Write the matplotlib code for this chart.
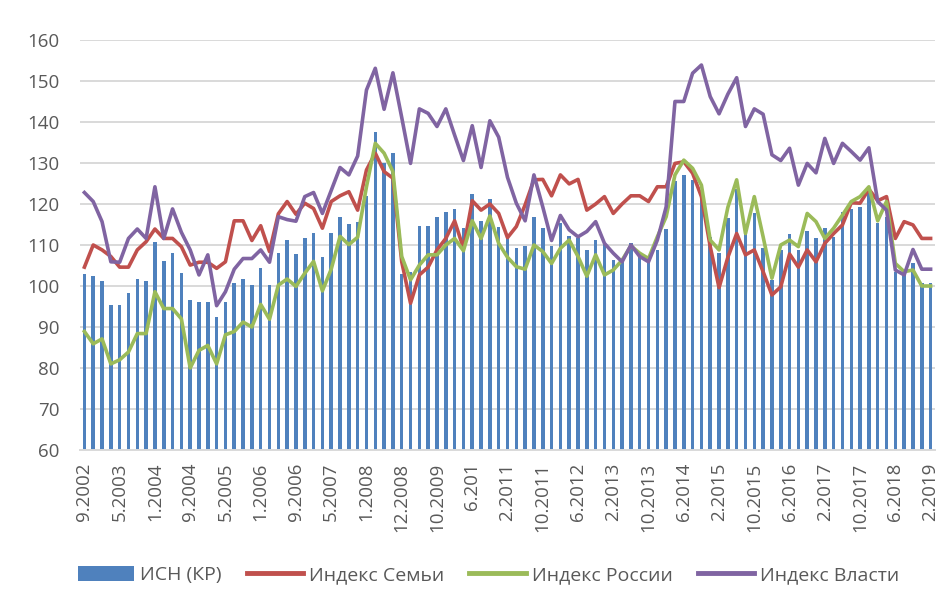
import numpy as np
import matplotlib
matplotlib.use("Agg")
import matplotlib.pyplot as plt
from matplotlib.patches import Patch
from matplotlib.lines import Line2D

plt.rcParams['font.family'] = ['Open Sans', 'DejaVu Sans']

tick_labels = ["9.2002", "5.2003", "1.2004", "9.2004", "5.2005", "1.2006", "9.2006",
               "5.2007", "1.2008", "12.2008", "10.2009", "6.201", "2.2011", "10.2011",
               "6.2012", "2.2013", "10.2013", "6.2014", "2.2015", "10.2015", "6.2016",
               "2.2017", "10.2017", "6.2018", "2.2019"]

isn_kr = [103.0, 102.5, 101.3, 95.3, 95.3, 98.3, 101.8, 101.3, 110.8, 106.1,
          108.0, 103.1, 96.5, 96.0, 96.0, 92.4, 96.0, 100.8, 101.8, 100.2,
          104.3, 100.2, 108.0, 111.2, 107.7, 111.8, 113.0, 107.1, 113.0, 116.9,
          115.1, 115.7, 122.0, 137.6, 130.0, 132.4, 103.0, 103.5, 114.6, 114.6,
          116.9, 118.1, 118.7, 114.1, 122.4, 115.9, 121.1, 114.5, 111.6, 109.2,
          109.8, 116.9, 114.1, 109.8, 115.3, 112.2, 111.6, 108.8, 111.1, 110.4,
          106.3, 106.3, 110.4, 107.8, 107.2, 108.8, 113.8, 125.7, 127.1, 125.9,
          121.8, 112.0, 108.1, 116.5, 123.6, 112.7, 117.7, 109.2, 101.5, 108.9,
          112.8, 108.9, 113.4, 111.6, 114.1, 112.0, 118.1, 118.9, 119.3, 122.8,
          115.3, 116.9, 103.5, 102.7, 105.5, 100.8, 100.8]

family_idx = [104.6, 110.0, 108.8, 107.2, 104.6, 104.6, 108.8, 110.8, 113.9, 111.6,
              111.6, 109.6, 105.1, 105.8, 105.8, 104.3, 105.9, 115.9, 115.9, 111.1,
              114.7, 108.4, 117.6, 120.6, 117.5, 120.2, 118.9, 114.1, 120.6, 122.0,
              123.0, 118.5, 128.3, 132.4, 127.9, 126.3, 105.9, 95.8, 102.7, 104.6,
              108.8, 111.6, 115.9, 109.2, 120.8, 118.5, 120.0, 117.7, 111.8, 114.5,
              119.8, 125.9, 126.0, 122.0, 127.1, 124.9, 126.0, 118.5, 120.0, 121.8,
              117.7, 120.0, 122.0, 122.0, 120.6, 124.2, 124.2, 129.9, 130.3, 127.5,
              121.8, 109.6, 99.6, 107.0, 112.8, 107.6, 108.8, 103.5, 97.8, 99.8,
              107.8, 104.6, 108.8, 105.9, 110.4, 112.8, 114.9, 120.3, 120.2, 123.6,
              120.8, 121.8, 111.6, 115.7, 114.9, 111.6, 111.6]

russia_idx = [88.9, 85.9, 87.1, 81.0, 82.0, 83.9, 88.4, 88.4, 98.6, 94.5,
              94.5, 92.0, 80.0, 84.3, 85.5, 81.0, 88.1, 88.9, 91.2, 90.0,
              95.5, 91.9, 100.2, 101.7, 99.9, 103.1, 106.0, 98.8, 104.1, 112.1,
              110.1, 111.9, 124.2, 134.8, 132.4, 127.9, 107.2, 101.5, 105.1, 107.6,
              107.6, 110.0, 111.6, 108.6, 115.9, 111.6, 117.1, 110.4, 107.0, 104.7,
              104.1, 110.0, 108.4, 105.5, 109.2, 111.2, 107.2, 102.4, 107.6, 102.7,
              103.9, 106.3, 109.8, 108.0, 106.7, 112.0, 116.9, 127.1, 130.7, 128.7,
              124.6, 111.2, 108.8, 119.2, 125.9, 112.8, 121.8, 112.0, 101.9, 110.0,
              111.2, 109.6, 117.7, 115.7, 111.6, 114.1, 117.3, 120.6, 121.8, 124.2,
              115.9, 120.6, 105.5, 103.5, 103.9, 100.0, 100.0]

power_idx = [122.8, 120.6, 115.7, 105.9, 105.8, 111.6, 113.9, 111.6, 124.2, 111.6,
             118.8, 113.1, 108.8, 102.7, 107.6, 95.2, 98.6, 104.1, 106.7, 106.7,
             108.8, 105.8, 116.9, 116.2, 115.8, 121.8, 122.8, 117.7, 123.3, 128.9,
             127.1, 131.7, 147.8, 153.1, 143.1, 152.0, 141.1, 129.9, 143.2, 142.1,
             138.9, 143.2, 136.8, 130.6, 139.1, 128.9, 140.3, 136.3, 126.5, 120.2,
             115.9, 127.1, 119.3, 111.1, 117.2, 113.7, 112.0, 113.3, 115.7, 110.4,
             108.0, 105.9, 110.0, 107.2, 105.9, 111.2, 119.3, 145.0, 145.0, 151.9,
             153.9, 146.2, 142.0, 146.8, 150.8, 138.9, 143.2, 141.9, 132.0, 130.6,
             133.6, 124.6, 129.9, 127.6, 136.0, 129.9, 134.8, 132.8, 130.7, 133.7,
             120.6, 118.5, 103.9, 102.7, 108.9, 104.1, 104.1]

series_names = ["ИСН (КР)", "Индекс Семьи", "Индекс России", "Индекс Власти"]
colors = ["#4F81BD", "#C0504D", "#9BBB59", "#8064A2"]
text_color = "#595959"
grid_color = "#D9D9D9"

fig = plt.figure(figsize=(9.52, 6.01), dpi=100)
ax = fig.add_axes([80/952, 1 - 450/601, 855/952, 410/601])

x = np.arange(len(isn_kr))
ax.bar(x, isn_kr, width=0.4, color=colors[0], zorder=2)
for vals, c in zip([family_idx, russia_idx, power_idx], colors[1:]):
    ax.plot(x, vals, color=c, linewidth=2.6, zorder=3, solid_joinstyle='round')

ax.set_xlim(-0.5, len(x) - 0.5)
ax.set_ylim(60, 160)
ax.set_yticks(np.arange(60, 161, 10))
ax.set_xticks(x[::4])
ax.set_xticklabels(tick_labels, rotation=90, ha='center', va='top')

ax.yaxis.grid(True, color=grid_color, linewidth=1.4)
ax.set_axisbelow(True)
for s in ['left', 'right', 'top']:
    ax.spines[s].set_visible(False)
ax.spines['bottom'].set_color(grid_color)
ax.spines['bottom'].set_linewidth(1.4)
ax.tick_params(axis='y', length=0, pad=15, labelsize=13.5, labelcolor=text_color)
ax.tick_params(axis='x', length=0, pad=9, labelsize=13.5, labelcolor=text_color)

handles = [Patch(facecolor=colors[0], edgecolor='none'),
           Line2D([0], [0], color=colors[1], linewidth=3.5),
           Line2D([0], [0], color=colors[2], linewidth=3.5),
           Line2D([0], [0], color=colors[3], linewidth=3.5)]
leg = fig.legend(handles, series_names, loc='center', bbox_to_anchor=(0.513, 0.043),
                 ncol=4, frameon=False, fontsize=14, handlelength=2.9,
                 handleheight=0.8, handletextpad=0.3, columnspacing=1.3)
for t in leg.get_texts():
    t.set_color(text_color)

fig.savefig("out.png", dpi=100)
